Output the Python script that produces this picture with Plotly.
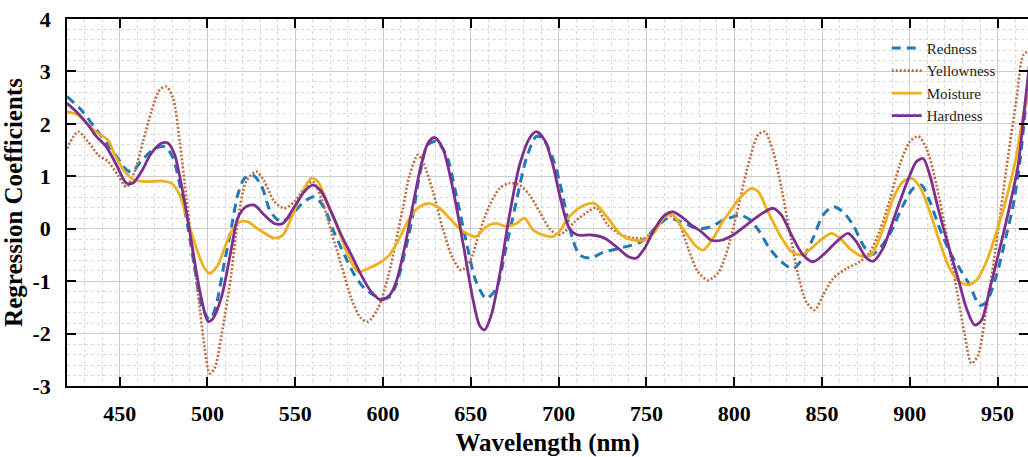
import plotly.graph_objects as go

# ---------------- data ----------------
wl_redness = [420, 428, 436, 445, 454, 457, 462, 470, 476, 480.4, 485, 489, 492.7, 496.5, 500.4, 502, 505,
              509.7, 513.5, 517.2, 521, 525.8, 530.6, 536, 542, 547.7, 555.2, 561, 566.6, 572, 578, 583.7,
              589.4, 595, 600.8, 603.7, 607.5, 613, 617, 620.8, 625.5, 630.3, 636, 641.7, 647.4, 653, 658.8,
              664.5, 670, 675.9, 681.6, 687.3, 691, 696.7, 700.5, 708, 712, 718, 725.5, 735, 747, 754.7,
              762.4, 770, 779.3, 787, 792.8, 797, 803, 808.9, 814.5, 820, 826.9, 833.5, 839.2, 844.9, 850.6,
              856.3, 862, 867.7, 873.4, 878, 882.9, 888.6, 896.2, 901.9, 906.6, 911.4, 917, 922.7, 928.4,
              934, 939.8, 943.6, 949.4, 955, 958.9, 962.7, 966.5, 968]
redness = [2.52, 2.27, 1.92, 1.53, 1.12, 1.08, 1.28, 1.53, 1.56, 1.35, 0.71, 0.0, -0.75, -1.46, -1.71, -1.72, -1.45,
           -0.63, 0.0, 0.64, 0.96, 1.02, 0.83, 0.32, 0.13, 0.26, 0.52, 0.61, 0.39, -0.06, -0.5, -0.88,
           -1.14, -1.27, -1.33, -1.3, -1.07, -0.37, 0.26, 1.02, 1.6, 1.66, 1.41, 0.64, -0.25, -1.01, -1.33,
           -1.14, -0.37, 0.52, 1.34, 1.76, 1.72, 1.34, 0.9, -0.2, -0.5, -0.56, -0.45, -0.37, -0.25, 0.0,
           0.2, 0.13, 0.0, 0.04, 0.15, 0.2, 0.26, 0.17, -0.06, -0.37, -0.63, -0.76, -0.56, -0.18, 0.26,
           0.42, 0.32, 0.07, -0.31, -0.5, -0.37, -0.1, 0.45, 0.77, 0.83, 0.52, 0.0, -0.44, -0.76,
           -1.07, -1.46, -1.4, -0.88, -0.12, 0.45, 1.28, 2.49, 2.8]

wl_yellowness = [420, 426.3, 432, 437.7, 443.4, 449, 453.8, 458.5, 463.3, 468, 472.8, 476.6, 480.4, 484.2, 488,
                 491.8, 495.6, 498.4, 501.3, 504.1, 508, 513.5, 517.2, 522, 527.7, 532.4, 538.1, 543.8, 549.5,
                 555.2, 560, 564.8, 570.5, 576.2, 581.9, 587.5, 591.4, 597.1, 603, 607, 611.3, 615.1, 619.9,
                 622.7, 628.4, 634, 639.7, 644.5, 649.3, 655, 660.7, 666.4, 672, 677.8, 683.5, 689.2, 694.9,
                 699.6, 703.4, 709, 716.6, 721.4, 728, 735.7, 743.3, 749, 754.7, 762.4, 768, 773.7, 779.3, 785,
                 790.7, 794.6, 797.4, 803, 808.9, 813.6, 817.4, 822.2, 826.9, 831.6, 836.4, 841.1, 845.8, 850.6,
                 856.3, 863.9, 871.5, 877.2, 882.9, 888.6, 894.3, 900, 904.8, 909.5, 915.2, 920.9, 926.6, 931.3,
                 935.1, 938.9, 943.6, 949.4, 955, 960.8, 964.6, 968]
yellowness = [1.53, 1.85, 1.66, 1.41, 1.28, 1.02, 0.8, 1.09, 1.66, 2.23, 2.65, 2.71, 2.49, 1.66, 0.58,
              -0.5, -1.52, -2.28, -2.76, -2.66, -2.03, -0.88, 0.13, 0.9, 1.09, 0.9, 0.52, 0.39, 0.52,
              0.77, 0.9, 0.58, -0.06, -0.69, -1.33, -1.71, -1.77, -1.52, -0.9, -0.3, 0.39, 1.02, 1.41,
              1.28, 0.71, 0.0, -0.56, -0.79, -0.63, -0.06, 0.45, 0.77, 0.87, 0.83, 0.64, 0.32, 0.0,
              -0.12, -0.06, 0.13, 0.32, 0.4, 0.07, -0.12, -0.18, -0.18, 0.0, 0.26, 0.13, -0.37, -0.82, -0.98,
              -0.85, -0.56, -0.25, 0.52, 1.34, 1.79, 1.85, 1.47, 0.77, -0.06, -0.88, -1.4, -1.55, -1.27,
              -0.95, -0.76, -0.63, -0.45, -0.03, 0.55, 1.22, 1.66, 1.76, 1.53, 0.83, -0.12, -1.14, -2.03,
              -2.57, -2.41, -1.52, -0.25, 1.15, 2.49, 3.31, 3.4]

wl_moisture = [420, 426.3, 432, 437.7, 443.4, 447.2, 452.9, 458.5, 466.2, 473.8, 479.5, 484.2, 489, 493.7,
               498.4, 501.3, 506, 509.7, 513.5, 518.2, 523, 528.6, 538.1, 542.9, 547.7, 553.4, 559, 562.9,
               568.6, 574.3, 580, 585.7, 591.4, 599, 603.7, 609.4, 615.1, 620.8, 626.5, 632.2, 637.9, 643.6,
               649.3, 653, 658.8, 664.5, 670.2, 675.9, 680.6, 685.3, 691, 696.7, 700.5, 705.3, 712.9, 720.5,
               728.1, 735.7, 743.3, 749, 754.7, 760.4, 765.2, 770.8, 777.5, 782.3, 788, 793.7, 797.4, 803,
               809.8, 813.6, 819.3, 826, 832.6, 838.3, 844, 850.6, 855.4, 860.1, 866.8, 873.4, 878, 884.8,
               890.5, 896.2, 901, 905.7, 911.4, 917, 922.7, 928.4, 933.2, 938, 943.6, 949.4, 955, 960.8,
               964.6, 968]
moisture = [2.23, 2.17, 1.98, 1.82, 1.69, 1.41, 1.09, 0.93, 0.9, 0.91, 0.87, 0.64, 0.13, -0.37,
            -0.76, -0.85, -0.69, -0.37, -0.06, 0.13, 0.13, 0.0, -0.18, -0.12, 0.2, 0.64, 0.96, 0.9,
            0.45, 0.0, -0.5, -0.82, -0.76, -0.63, -0.5, -0.18, 0.2, 0.42, 0.48, 0.39, 0.2, 0.0,
            -0.12, -0.15, 0.04, 0.1, 0.04, 0.1, 0.2, -0.02, -0.12, -0.15, -0.05, 0.2, 0.42, 0.48,
            0.2, -0.12, -0.22, -0.22, -0.06, 0.23, 0.26, 0.0, -0.31, -0.41, -0.18, 0.15, 0.32, 0.58,
            0.77, 0.71, 0.32, -0.12, -0.44, -0.5, -0.37, -0.18, -0.09, -0.18, -0.41, -0.53, -0.5, 0.0,
            0.58, 0.9, 0.96, 0.8, 0.32, -0.25, -0.76, -1.01, -1.07, -0.98, -0.63, -0.06, 0.58, 1.41,
            2.17, 2.6]

wl_hardness = [420, 426.3, 432, 436.7, 442.4, 448.1, 453.8, 457.6, 462.4, 468, 473.8, 477.6, 481.3, 485.2,
               489, 492.7, 496.5, 500.4, 503.2, 508, 513.5, 517.2, 522, 526.7, 532.4, 538.1, 542.9, 549.5,
               555.2, 560, 564.8, 570.5, 576.2, 581.9, 587.5, 593.2, 598.9, 603.7, 607.5, 612.2, 617, 621.7,
               625.5, 629.3, 634, 639.7, 645.4, 651.1, 654.9, 657.8, 661.6, 666.4, 672, 677.8, 683.5, 687.3,
               692, 696.7, 700.5, 706.2, 711, 718.6, 726.2, 733.8, 739.5, 744.2, 749, 754.7, 760.4, 765.1,
               769.9, 775.6, 781.3, 787, 792.7, 799.3, 806.9, 814.5, 822.1, 826.9, 832.6, 839.2, 844.9, 850.6,
               858.2, 864.8, 869.6, 875.3, 879.1, 884.8, 888.6, 894.3, 900, 903.8, 907.6, 911.4, 916.1, 921.8,
               927.5, 932.3, 937, 940.9, 945.6, 951.3, 957, 961.7, 965.5, 968]
hardness = [2.39, 2.2, 1.98, 1.76, 1.56, 1.22, 0.87, 0.87, 1.09, 1.44, 1.63, 1.63, 1.41, 0.83,
            0.13, -0.63, -1.33, -1.77, -1.71, -1.3, -0.4, 0.2, 0.42, 0.45, 0.26, 0.1, 0.1, 0.42,
            0.71, 0.83, 0.71, 0.32, -0.12, -0.5, -0.88, -1.2, -1.36, -1.27, -1.01, -0.37, 0.45, 1.22,
            1.63, 1.74, 1.53, 0.77, -0.25, -1.33, -1.84, -1.93, -1.65, -0.88, 0.26, 1.22, 1.73, 1.85,
            1.69, 1.22, 0.65, 0.0, -0.12, -0.12, -0.18, -0.37, -0.53, -0.56, -0.37, 0.0, 0.26, 0.32,
            0.23, 0.07, -0.06, -0.22, -0.22, -0.12, 0.07, 0.26, 0.39, 0.26, -0.12, -0.5, -0.63, -0.5,
            -0.25, -0.09, -0.25, -0.56, -0.62, -0.37, -0.03, 0.52, 1.02, 1.28, 1.34, 1.02, 0.39, -0.31,
            -0.95, -1.52, -1.84, -1.74, -1.14, -0.37, 0.45, 1.22, 2.36, 3.1]

x_ticks = [450, 500, 550, 600, 650, 700, 750, 800, 850, 900, 950]
y_ticks = [-3, -2, -1, 0, 1, 2, 3, 4]

# ---------------- figure ----------------
FONT = "Liberation Serif"
fig = go.Figure()

series = [
    ("Redness", wl_redness, redness, "#2279B5", "9px,6px", 3),
    ("Yellowness", wl_yellowness, yellowness, "#BF6A3D", "2px,2px", 2.6),
    ("Moisture", wl_moisture, moisture, "#EDB120", "solid", 2.8),
    ("Hardness", wl_hardness, hardness, "#7E2F8E", "solid", 2.8),
]
for name, xs, ys, color, dash, w in series:
    fig.add_trace(go.Scatter(
        x=xs, y=ys, name=name, mode="lines",
        line=dict(color=color, width=w, dash=dash, shape="spline", smoothing=0.8),
    ))

axis_common = dict(
    showline=True, linecolor="black", linewidth=1.5, mirror="ticks",
    ticks="inside", ticklen=9, tickwidth=1.8, tickcolor="black",
    showgrid=True, gridcolor="#cccccc", gridwidth=1,
    zeroline=False, automargin=False,
    tickfont=dict(family=FONT, size=22, color="black", weight="bold"),
    title_font=dict(family=FONT, size=25, color="black", weight="bold"),
)

fig.update_xaxes(
    **axis_common,
    range=[420, 967.3], tickvals=x_ticks, ticktext=[str(v) for v in x_ticks],
    ticklabelstandoff=7,
    title_text="Wavelength (nm)", title_standoff=8,
    minor=dict(dtick=10, showgrid=True, gridcolor="#d8d8d8", griddash="dot", gridwidth=1, ticks=""),
)
fig.update_yaxes(
    **axis_common,
    range=[-3, 4], tickvals=y_ticks, ticktext=[str(v) for v in y_ticks],
    ticklabelstandoff=10,
    title_text="Regression Coefficients", title_standoff=4,
    minor=dict(dtick=0.2, showgrid=True, gridcolor="#d8d8d8", griddash="dot", gridwidth=1, ticks=""),
)

fig.update_layout(
    width=1028, height=457,
    margin=dict(l=67, r=0, t=19, b=71),
    plot_bgcolor="white", paper_bgcolor="white",
    font=dict(family=FONT, color="black"),
    legend=dict(
        x=0.853, y=0.965, xanchor="left", yanchor="top",
        bgcolor="rgba(0,0,0,0)", borderwidth=0,
        font=dict(family=FONT, size=15, color="#222222"),
        tracegroupgap=0, itemwidth=30,
    ),
)

fig.write_html("out.html")
